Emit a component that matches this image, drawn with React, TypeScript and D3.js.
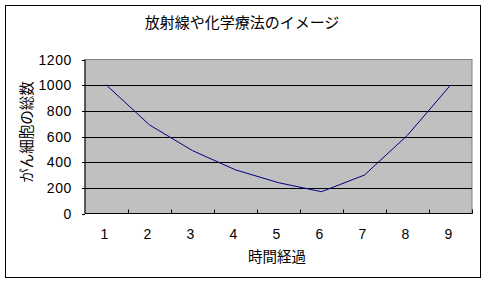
import React, { useEffect, useRef } from 'react';
import * as d3 from 'd3';

const categories = ['1', '2', '3', '4', '5', '6', '7', '8', '9'];
const cellCounts = [1000, 690, 490, 340, 240, 170, 300, 610, 1000];
const yTicks = [0, 200, 400, 600, 800, 1000, 1200];
const title = '放射線や化学療法のイメージ';
const xTitle = '時間経過';
const yTitle = 'がん細胞の総数';

const W = 488;
const H = 285;
const jpFont = '"Noto Sans CJK JP", sans-serif';
const numFont = '"Liberation Sans", Arial, sans-serif';

const App = () => {
  const svgRef = useRef<SVGSVGElement | null>(null);

  useEffect(() => {
    drawChart();
  }, []);

  const drawChart = () => {
    const svg = d3.select(svgRef.current);
    svg.selectAll('*').remove();

    const left = 85, right = 472, top = 59.5, bottom = 213.5;

    const x = d3.scaleBand<string>().domain(categories).range([left, right]).padding(0);
    const y = d3.scaleLinear().domain([0, 1200]).range([bottom, top]);

    // outer frame
    svg.append('rect')
      .attr('x', 5.5).attr('y', 5.5)
      .attr('width', 475).attr('height', 272)
      .attr('fill', '#fff').attr('stroke', '#000');

    // title
    svg.append('text')
      .attr('x', 242).attr('y', 28)
      .attr('text-anchor', 'middle')
      .attr('font-family', jpFont)
      .attr('font-size', 15)
      .text(title);

    // plot area
    svg.append('rect')
      .attr('x', left).attr('y', top)
      .attr('width', right - left).attr('height', bottom - top)
      .attr('fill', '#c0c0c0').attr('stroke', '#808080');

    // gridlines + y ticks
    svg.append('g')
      .selectAll('line')
      .data(yTicks.filter(d => d > 0 && d < 1200))
      .join('line')
      .attr('x1', left).attr('x2', right)
      .attr('y1', d => Math.round(y(d)) + 0.5).attr('y2', d => Math.round(y(d)) + 0.5)
      .attr('stroke', '#000');

    svg.append('g')
      .selectAll('line')
      .data(yTicks)
      .join('line')
      .attr('x1', left - 3).attr('x2', left)
      .attr('y1', d => Math.round(y(d)) + 0.5).attr('y2', d => Math.round(y(d)) + 0.5)
      .attr('stroke', '#000');

    svg.append('g')
      .selectAll('text')
      .data(yTicks)
      .join('text')
      .attr('x', 72).attr('y', d => y(d) + 5)
      .attr('text-anchor', 'end')
      .attr('font-family', numFont)
      .attr('font-size', 14)
      .attr('letter-spacing', 0.6)
      .text(d => d);

    // axes lines
    svg.append('line')
      .attr('x1', left).attr('x2', left).attr('y1', top).attr('y2', bottom)
      .attr('stroke', '#000');
    svg.append('line')
      .attr('x1', left).attr('x2', right + 0.5).attr('y1', bottom).attr('y2', bottom)
      .attr('stroke', '#000');

    // x ticks at category boundaries (inside)
    svg.append('g')
      .selectAll('line')
      .data(categories)
      .join('line')
      .attr('x1', d => Math.round(x(d)! + x.bandwidth()) + 0.5)
      .attr('x2', d => Math.round(x(d)! + x.bandwidth()) + 0.5)
      .attr('y1', bottom - 4).attr('y2', bottom)
      .attr('stroke', '#000');

    svg.append('g')
      .selectAll('text')
      .data(categories)
      .join('text')
      .attr('x', d => x(d)! + x.bandwidth() / 2 - 2)
      .attr('y', 239)
      .attr('text-anchor', 'middle')
      .attr('font-family', numFont)
      .attr('font-size', 14)
      .text(d => d);

    // line
    const line = d3.line<number>()
      .x((d, i) => x(categories[i])! + x.bandwidth() / 2)
      .y(d => y(d));

    svg.append('path')
      .datum(cellCounts)
      .attr('d', line)
      .attr('fill', 'none')
      .attr('stroke', '#000080')
      .attr('stroke-width', 1);

    // axis titles
    svg.append('text')
      .attr('x', 277).attr('y', 262)
      .attr('text-anchor', 'middle')
      .attr('font-family', jpFont)
      .attr('font-size', 14.5)
      .text(xTitle);

    svg.append('text')
      .attr('transform', 'translate(32,132) rotate(-90)')
      .attr('text-anchor', 'middle')
      .attr('font-family', jpFont)
      .attr('font-size', 14.5)
      .text(yTitle);
  };

  return (
    <svg
      ref={svgRef}
      width={W}
      height={H}
      style={{ position: 'absolute', left: 0, top: 0, background: '#fff' }}
    ></svg>
  );
};

export default App;
